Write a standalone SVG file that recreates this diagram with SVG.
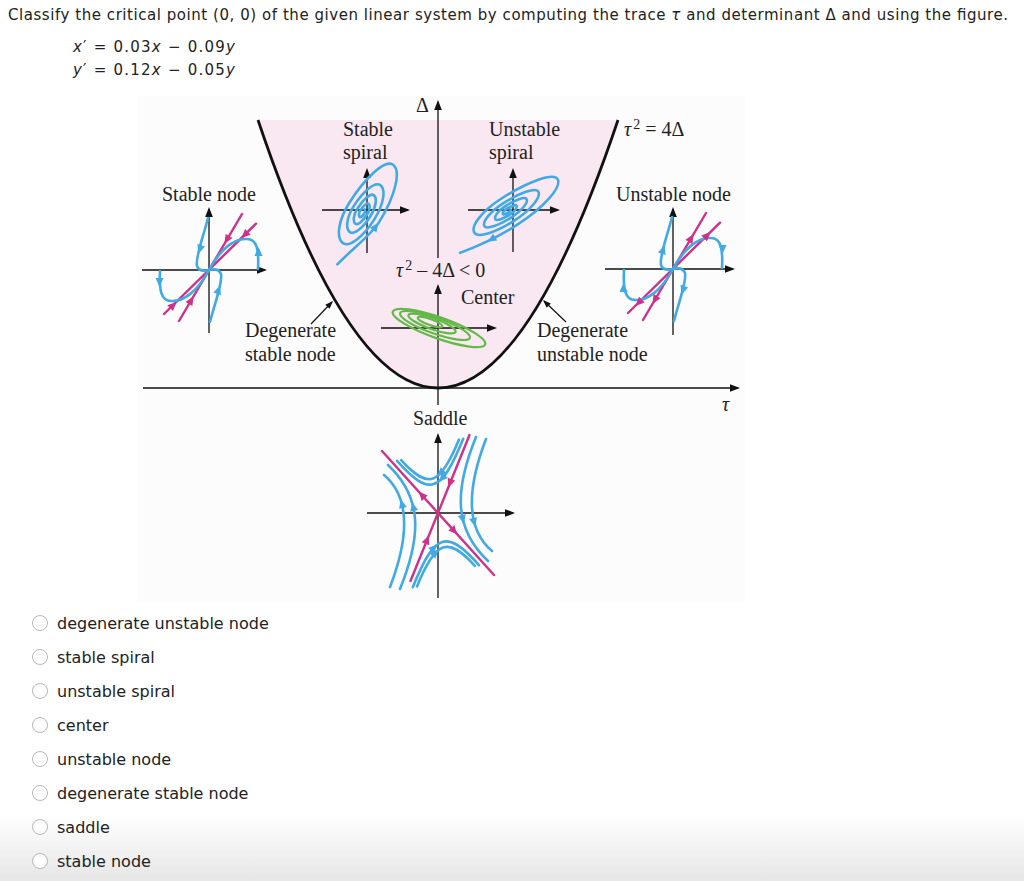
<svg xmlns="http://www.w3.org/2000/svg" width="1024" height="881" viewBox="0 0 1024 881">
<defs>
<style>
.ax{stroke:#111;stroke-width:1.3;fill:none}
.bl{stroke:#41aae4;stroke-width:2.6;fill:none;stroke-linecap:round;stroke-linejoin:round}
.mg{stroke:#d0308a;stroke-width:2.4;fill:none;stroke-linecap:round}
.gr{stroke:#63b947;stroke-width:2.2;fill:none}
.fb{fill:#41aae4}
.fm{fill:#d0308a}
.fk{fill:#111}
.lbl{font-family:"Liberation Serif","Times New Roman",serif;font-size:20px;fill:#222}
.ui{font-family:"DejaVu Sans",Verdana,sans-serif;font-size:16px;fill:#222}
.q{font-family:"DejaVu Sans",Verdana,sans-serif;font-size:15px;fill:#222}
.rb{fill:#fff;stroke:#b8b8b8;stroke-width:1}
</style>
<path id="ah" d="M5,0 L-4,-4 L-4,4 Z"/>
<path id="axh" d="M0,0 L-10,-3.8 L-10,3.8 Z"/>
<path id="lh" d="M0,0 L-8,-3 L-8,3 Z"/>
<linearGradient id="shade" x1="0" y1="0" x2="0" y2="1">
<stop offset="0" stop-color="#ffffff"/>
<stop offset="1" stop-color="#e6e6e6"/>
</linearGradient>
</defs>
<rect x="0" y="0" width="1024" height="881" fill="#fff"/>
<rect x="0" y="815" width="1024" height="66" fill="url(#shade)"/>

<g id="question">
<text class="q" x="8" y="20" textLength="1000" lengthAdjust="spacing">Classify the critical point (0, 0) of the given linear system by computing the trace <tspan font-style="italic">τ</tspan> and determinant Δ and using the figure.</text>
</g>
<g id="equations">
<text class="q" x="73" y="52" font-size="16" textLength="162" lengthAdjust="spacing"><tspan font-style="italic">x</tspan>′ = 0.03<tspan font-style="italic">x</tspan> − 0.09<tspan font-style="italic">y</tspan></text>
<text class="q" x="73" y="75" font-size="16" textLength="162" lengthAdjust="spacing"><tspan font-style="italic">y</tspan>′ = 0.12<tspan font-style="italic">x</tspan> − 0.05<tspan font-style="italic">y</tspan></text>
</g>

<g id="figure">
<rect x="137" y="96" width="608" height="506" fill="#fcfcfc"/>
<g id="region">
<path d="M258,120 Q438,656 618,120 Z" fill="#f9e8f2"/>
<path d="M258,120 Q438,656 618,120" fill="none" stroke="#111" stroke-width="2.8"/>
</g>
<g id="main-axes">
<path class="ax" d="M143,388 H738"/>
<use href="#axh" class="fk" transform="translate(740,388)"/>
<path class="ax" d="M438,258 V102"/>
<use href="#axh" class="fk" transform="translate(438,100) rotate(-90)"/>
<text class="lbl" x="416" y="112" font-size="18">Δ</text>
<text class="lbl" x="722" y="411" font-style="italic">τ</text>
</g>

<g id="labels">
<text class="lbl" x="343" y="136">Stable</text>
<text class="lbl" x="343" y="159">spiral</text>
<text class="lbl" x="489" y="136">Unstable</text>
<text class="lbl" x="489" y="159">spiral</text>
<text class="lbl" x="624" y="136"><tspan font-style="italic">τ</tspan><tspan font-size="14" dx="2" dy="-7">2</tspan><tspan dy="7"> = 4Δ</tspan></text>
<text class="lbl" x="162" y="201">Stable node</text>
<text class="lbl" x="616" y="201">Unstable node</text>
<text class="lbl" x="396" y="277"><tspan font-style="italic">τ</tspan><tspan font-size="14" dx="2" dy="-7">2</tspan><tspan dy="7"> – 4Δ &lt; 0</tspan></text>
<text class="lbl" x="461" y="304">Center</text>
<text class="lbl" x="245" y="337">Degenerate</text>
<text class="lbl" x="245" y="361">stable node</text>
<text class="lbl" x="537" y="337">Degenerate</text>
<text class="lbl" x="537" y="361">unstable node</text>
<text class="lbl" x="413" y="425">Saddle</text>
</g>

<g id="connectors">
<path d="M311,324 L332,302" stroke="#111" stroke-width="1.2" fill="none"/>
<use href="#lh" class="fk" transform="translate(333,301) rotate(-46)"/>
<path d="M566,322 L544,301" stroke="#111" stroke-width="1.2" fill="none"/>
<use href="#lh" class="fk" transform="translate(543,300) rotate(-136)"/>
</g>

<g id="stable-node" transform="translate(209,270)">
<path class="ax" d="M-67,0 H56 M0,63 V-61"/>
<use href="#axh" class="fk" transform="translate(58,0)"/>
<use href="#axh" class="fk" transform="translate(0,-63) rotate(-90)"/>
<path class="mg" d="M-45,44 L47,-46.3 M-30,51 L33,-56"/>
<path class="bl" d="M-1,-52 C-6,-32 -14,-12 -12,-4 C-10,2 -4,1 0,0"/>
<path class="bl" d="M1,52 C6,32 14,12 12,4 C10,-2 4,-1 0,0"/>
<path class="bl" d="M49,-1 C50,-20 48,-31 38,-31 C26,-32 12,-22 0,0"/>
<path class="bl" d="M-49,1 C-50,20 -48,31 -38,31 C-26,32 -12,22 0,0"/>
<use href="#ah" class="fm" transform="translate(36,-35.4) rotate(135.5)"/>
<use href="#ah" class="fm" transform="translate(18,-30.6) rotate(120.5)"/>
<use href="#ah" class="fm" transform="translate(-36,35.4) rotate(-44.5)"/>
<use href="#ah" class="fm" transform="translate(-18,30.6) rotate(-59.5)"/>
<use href="#ah" class="fb" transform="translate(-9,-21) rotate(108)"/>
<use href="#ah" class="fb" transform="translate(49.5,-18) rotate(-90)"/>
<use href="#ah" class="fb" transform="translate(-49.5,12) rotate(90)"/>
<use href="#ah" class="fb" transform="translate(9.5,20) rotate(-70)"/>
</g>

<g id="unstable-node" transform="translate(673,269)">
<path class="ax" d="M-68,0 H60 M0,66 V-60"/>
<use href="#axh" class="fk" transform="translate(62,0)"/>
<use href="#axh" class="fk" transform="translate(0,-62) rotate(-90)"/>
<path class="mg" d="M-45,44 L47,-46.3 M-30,51 L33,-56"/>
<path class="bl" d="M-1,-52 C-6,-32 -14,-12 -12,-4 C-10,2 -4,1 0,0"/>
<path class="bl" d="M1,52 C6,32 14,12 12,4 C10,-2 4,-1 0,0"/>
<path class="bl" d="M49,-1 C50,-20 48,-31 38,-31 C26,-32 12,-22 0,0"/>
<path class="bl" d="M-49,1 C-50,20 -48,31 -38,31 C-26,32 -12,22 0,0"/>
<use href="#ah" class="fm" transform="translate(34,-33.4) rotate(-44.5)"/>
<use href="#ah" class="fm" transform="translate(18,-30.6) rotate(-59.5)"/>
<use href="#ah" class="fm" transform="translate(-34,33.4) rotate(135.5)"/>
<use href="#ah" class="fm" transform="translate(-18,30.6) rotate(120.5)"/>
<use href="#ah" class="fb" transform="translate(-10,-19) rotate(-72)"/>
<use href="#ah" class="fb" transform="translate(49.5,-20) rotate(90)"/>
<use href="#ah" class="fb" transform="translate(-49.5,19) rotate(-90)"/>
<use href="#ah" class="fb" transform="translate(10,21) rotate(110)"/>
</g>

<g id="stable-spiral">
<g transform="translate(367,210)">
<path class="ax" d="M-45,0 H41 M0,43 V-40"/>
<use href="#axh" class="fk" transform="translate(43,0)"/>
<use href="#axh" class="fk" transform="translate(0,-42) rotate(-90)"/>
</g>
<g transform="translate(363,212) rotate(-58)">
<path class="bl" d="M-58,6 C-35,11 -15,19 0,19 A56 19 0 0 0 56,0 A56 16.5 0 0 0 0,-16.5 A37 16.5 0 0 0 -37,0 A37 13.5 0 0 0 0,13.5 A32 13.5 0 0 0 32,0 A32 11 0 0 0 0,-11 A24 11 0 0 0 -24,0 A24 8.5 0 0 0 0,8.5 A20 8.5 0 0 0 20,0 A20 6.5 0 0 0 0,-6.5 A14 6.5 0 0 0 -14,0 A14 4.8 0 0 0 0,4.8 A10 4.8 0 0 0 10,0 A10 3 0 0 0 0,-3 A6 3 0 0 0 -6,0 A6 1.8 0 0 0 0,1.8 A3 1.8 0 0 0 3,0"/>
<use href="#ah" class="fb" transform="translate(-6,18.5) rotate(3)"/>
</g>
</g>

<g id="unstable-spiral">
<g transform="translate(513,210)">
<path class="ax" d="M-45,0 H45 M0,42 V-40"/>
<use href="#axh" class="fk" transform="translate(47,0)"/>
<use href="#axh" class="fk" transform="translate(0,-42) rotate(-90)"/>
</g>
<g transform="translate(508,211) rotate(-33)">
<path class="bl" d="M-63,9 C-40,14 -15,16.5 0,16.5 A59 16.5 0 0 0 59,0 A59 14 0 0 0 0,-14 A40 14 0 0 0 -40,0 A40 11.5 0 0 0 0,11.5 A36 11.5 0 0 0 36,0 A36 9 0 0 0 0,-9 A28 9 0 0 0 -28,0 A28 7.2 0 0 0 0,7.2 A22 7.2 0 0 0 22,0 A22 5.5 0 0 0 0,-5.5 A15 5.5 0 0 0 -15,0 A15 4 0 0 0 0,4 A10 4 0 0 0 10,0 A10 2.5 0 0 0 0,-2.5 A6 2.5 0 0 0 -6,0 A6 1.4 0 0 0 0,1.4 A3 1.4 0 0 0 3,0"/>
<use href="#ah" class="fb" transform="translate(-29,14.8) rotate(182)"/>
</g>
</g>

<g id="center" transform="translate(438,328)">
<path class="ax" d="M-57,0 H57 M0,77 V-42"/>
<use href="#axh" class="fk" transform="translate(59,0)"/>
<use href="#axh" class="fk" transform="translate(0,-44) rotate(-90)"/>
<ellipse class="gr" cx="1" cy="0" rx="49" ry="10.5" transform="rotate(19.5 1 0)"/>
<ellipse class="gr" cx="-3" cy="-2.5" rx="37" ry="8" transform="rotate(19.5 -3 -2.5)"/>
<ellipse class="gr" cx="-6" cy="-4.5" rx="25" ry="5.5" transform="rotate(19.5 -6 -4.5)"/>
<ellipse class="gr" cx="-8" cy="-6" rx="13" ry="3" transform="rotate(19.5 -8 -6)"/>
</g>

<g id="saddle" transform="translate(438,513)">
<path class="ax" d="M-71,0 H75 M0,85 V-78"/>
<use href="#axh" class="fk" transform="translate(77,0)"/>
<use href="#axh" class="fk" transform="translate(0,-80) rotate(-90)"/>
<path class="bl" d="M25.2,-74.2 C2.65,-18.5 -8.8,-16.5 -41,-52.1"/>
<path class="bl" d="M21,-73.4 C2.2,-27.1 -10,-23.1 -36.8,-52.8"/>
<path class="bl" d="M-25.2,74.2 C-2.65,18.5 8.8,16.5 41,52.1"/>
<path class="bl" d="M-21,73.4 C-2.2,27.1 10,23.1 36.8,52.8"/>
<path class="bl" d="M38,-76 C16,-22 16,16 50,48"/>
<path class="bl" d="M48,-74 C28,-22 28,16 54,38"/>
<path class="bl" d="M-38,76 C-16,22 -16,-16 -50,-48"/>
<path class="bl" d="M-48,74 C-28,22 -28,-16 -54,-38"/>
<path class="mg" d="M-56,-62 L56,62 M31.5,-78 L-27.5,68"/>
<use href="#ah" class="fb" transform="translate(4.2,-34.8) rotate(133)"/>
<use href="#ah" class="fb" transform="translate(2.8,-40) rotate(133)"/>
<use href="#ah" class="fb" transform="translate(-4.2,34.8) rotate(-47)"/>
<use href="#ah" class="fb" transform="translate(-2.8,40) rotate(-47)"/>
<use href="#ah" class="fb" transform="translate(24.7,6) rotate(77)"/>
<use href="#ah" class="fb" transform="translate(36,9) rotate(76)"/>
<use href="#ah" class="fb" transform="translate(-24.7,-6) rotate(-103)"/>
<use href="#ah" class="fb" transform="translate(-36,-9) rotate(-104)"/>
<use href="#ah" class="fm" transform="translate(16,17.7) rotate(47.9)"/>
<use href="#ah" class="fm" transform="translate(-16,-17.7) rotate(227.9)"/>
<use href="#ah" class="fm" transform="translate(12,-30) rotate(112)"/>
<use href="#ah" class="fm" transform="translate(-11,27) rotate(-68)"/>
</g>
</g>

<g id="options">
<g id="opt1"><circle class="rb" cx="40" cy="623" r="7.5"/><text class="ui" x="57" y="628.5">degenerate unstable node</text></g>
<g id="opt2"><circle class="rb" cx="40" cy="657" r="7.5"/><text class="ui" x="57" y="662.5">stable spiral</text></g>
<g id="opt3"><circle class="rb" cx="40" cy="691" r="7.5"/><text class="ui" x="57" y="696.5">unstable spiral</text></g>
<g id="opt4"><circle class="rb" cx="40" cy="725" r="7.5"/><text class="ui" x="57" y="730.5">center</text></g>
<g id="opt5"><circle class="rb" cx="40" cy="759" r="7.5"/><text class="ui" x="57" y="764.5">unstable node</text></g>
<g id="opt6"><circle class="rb" cx="40" cy="793" r="7.5"/><text class="ui" x="57" y="798.5">degenerate stable node</text></g>
<g id="opt7"><circle class="rb" cx="40" cy="827" r="7.5"/><text class="ui" x="57" y="832.5">saddle</text></g>
<g id="opt8"><circle class="rb" cx="40" cy="861" r="7.5"/><text class="ui" x="57" y="866.5">stable node</text></g>
</g>
</svg>
